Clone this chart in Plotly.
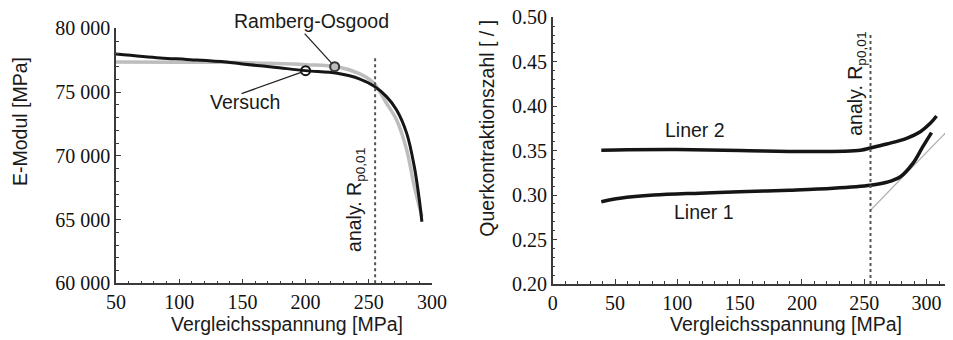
import plotly.graph_objects as go

# ---------------- data ----------------
# left panel: E-Modul vs Vergleichsspannung
versuch_x = [50, 85, 106, 137, 150, 175, 200, 225, 243, 254, 264, 272, 280, 286, 290, 292]
versuch_e = [77990, 77680, 77560, 77360, 77200, 76950, 76680, 76470, 76020, 75470, 74640, 73590, 71760, 69150, 66530, 64830]

ro_x = [50, 100, 137, 170, 200, 225, 243, 254, 264, 272, 280, 286, 292]
ro_e = [77360, 77340, 77330, 77250, 77150, 76990, 76420, 75690, 74120, 72810, 70460, 67580, 65230]

versuch_marker_x = [200]
versuch_marker_e = [76680]
ro_marker_x = [223]
ro_marker_e = [76990]

# right panel: Querkontraktionszahl
liner2_x = [39, 60, 100, 150, 206, 247, 255, 268, 284, 295, 303, 308]
liner2_y = [0.3505, 0.351, 0.3512, 0.3502, 0.3490, 0.3505, 0.353, 0.3575, 0.3639, 0.3713, 0.3807, 0.389]

liner1_x = [39, 54, 81, 118, 150, 190, 225, 255, 268, 279, 289, 297, 304]
liner1_y = [0.2926, 0.2964, 0.300, 0.3022, 0.3038, 0.3055, 0.3076, 0.311, 0.3144, 0.3207, 0.3357, 0.3545, 0.3703]

tangent_x = [255, 320]
tangent_y = [0.283, 0.377]

rp_value = 255
rp_left_e = [60000, 77650]
rp_right_y = [0.20, 0.482]

left_xticks = [50, 100, 150, 200, 250, 300]
left_yticks = [60000, 65000, 70000, 75000, 80000]
left_ytext = ["60 000", "65 000", "70 000", "75 000", "80 000"]
right_xticks = [0, 50, 100, 150, 200, 250, 300]
right_yticks = [0.20, 0.25, 0.30, 0.35, 0.40, 0.45, 0.50]
right_ytext = ["0.20", "0.25", "0.30", "0.35", "0.40", "0.45", "0.50"]

# ---------------- figure ----------------
BLACK = "#151515"
GREY = "#bdbdbd"
AXIS = "#3a3a3a"
SANS = "Liberation Sans"
SERIF = "Liberation Serif"

# page body has an 8px margin: layout positions are given in window pixels and shifted
OFF = 8
W, H = 953 - OFF, 340 - OFF


def px(xp):
    return (xp - OFF) / W


def py(yp):
    return 1 - (yp - OFF) / H


fig = go.Figure()

# left panel
fig.add_trace(go.Scatter(x=ro_x, y=ro_e, mode="lines", line=dict(color=GREY, width=3.5, shape="spline"),
                         xaxis="x", yaxis="y", showlegend=False))
fig.add_trace(go.Scatter(x=versuch_x, y=versuch_e, mode="lines", line=dict(color=BLACK, width=3, shape="spline"),
                         xaxis="x", yaxis="y", showlegend=False))
fig.add_trace(go.Scatter(x=[rp_value, rp_value], y=rp_left_e, mode="lines",
                         line=dict(color="#555555", width=2, dash="dot"), xaxis="x", yaxis="y", showlegend=False))
fig.add_trace(go.Scatter(x=versuch_marker_x, y=versuch_marker_e, mode="markers",
                         marker=dict(symbol="circle-open", size=9, color=BLACK, line=dict(width=2)),
                         xaxis="x", yaxis="y", showlegend=False))
fig.add_trace(go.Scatter(x=ro_marker_x, y=ro_marker_e, mode="markers",
                         marker=dict(symbol="circle", size=9, color=GREY, line=dict(width=2, color="#333333")),
                         xaxis="x", yaxis="y", showlegend=False))

# right panel
fig.add_trace(go.Scatter(x=tangent_x, y=tangent_y, mode="lines", line=dict(color="#b0b0b0", width=1.2),
                         xaxis="x2", yaxis="y2", showlegend=False))
fig.add_trace(go.Scatter(x=liner2_x, y=liner2_y, mode="lines", line=dict(color=BLACK, width=3.5, shape="spline"),
                         xaxis="x2", yaxis="y2", showlegend=False))
fig.add_trace(go.Scatter(x=liner1_x, y=liner1_y, mode="lines", line=dict(color=BLACK, width=3.5, shape="spline"),
                         xaxis="x2", yaxis="y2", showlegend=False))
fig.add_trace(go.Scatter(x=[rp_value, rp_value], y=rp_right_y, mode="lines",
                         line=dict(color="#555555", width=2, dash="dot"), xaxis="x2", yaxis="y2", showlegend=False))

axis_common = dict(showline=True, linecolor=AXIS, linewidth=1.5, ticks="inside", ticklen=5, tickwidth=1.2,
                   tickcolor=AXIS, showgrid=False, zeroline=False, mirror=False, automargin=False,
                   ticklabeloverflow="allow",
                   tickfont=dict(family=SERIF, size=20, color="#111111"))

fig.update_layout(
    template="none",
    width=W, height=H,
    margin=dict(l=0, r=0, t=0, b=0, pad=0),
    plot_bgcolor="white", paper_bgcolor="white",
    xaxis=dict(domain=[px(116), px(432)], range=[50, 300], tickvals=left_xticks, anchor="y",
               minor=dict(ticks="inside", dtick=10, ticklen=3, tickcolor=AXIS), **axis_common),
    yaxis=dict(domain=[py(283.3), py(28.3)], range=[60000, 80000], tickvals=left_yticks,
               ticktext=left_ytext, anchor="x",
               minor=dict(ticks="inside", dtick=1000, ticklen=3, tickcolor=AXIS), **axis_common),
    xaxis2=dict(domain=[px(552.7), min(1, px(951.5))], range=[0, 320], tickvals=right_xticks, anchor="y2",
                minor=dict(ticks="inside", dtick=10, ticklen=3, tickcolor=AXIS), **axis_common),
    yaxis2=dict(domain=[py(284), py(17.3)], range=[0.20, 0.50], tickvals=right_yticks,
                ticktext=right_ytext, anchor="x2",
                minor=dict(ticks="inside", dtick=0.01, ticklen=3, tickcolor=AXIS), **axis_common),
)

txt = dict(family=SANS, size=19.5, color="#1a1a1a")
ann = []
# axis titles
ann.append(dict(text="E-Modul [MPa]", x=px(20), y=py(122), xref="paper", yref="paper", textangle=-90,
                showarrow=False, font=txt, xanchor="center", yanchor="middle"))
ann.append(dict(text="Vergleichsspannung [MPa]", x=px(287), y=py(324), xref="paper", yref="paper",
                showarrow=False, font=txt, xanchor="center", yanchor="middle"))
ann.append(dict(text="Querkontraktionszahl [ / ]", x=px(486.7), y=py(128), xref="paper", yref="paper",
                textangle=-90, showarrow=False, font=txt, xanchor="center", yanchor="middle"))
ann.append(dict(text="Vergleichsspannung [MPa]", x=px(786), y=py(324), xref="paper", yref="paper",
                showarrow=False, font=txt, xanchor="center", yanchor="middle"))
# left labels
ann.append(dict(text="Ramberg-Osgood", x=px(311), y=py(21), xref="paper", yref="paper", showarrow=False,
                font=txt, xanchor="center", yanchor="middle"))
ann.append(dict(text="Versuch", x=152, y=74220, xref="x", yref="y", showarrow=False, font=txt))
ann.append(dict(text="analy. R<sub>p0,01</sub>", x=239, y=66530, xref="x", yref="y", textangle=-90,
                showarrow=False, font=txt))
# right labels
ann.append(dict(text="Liner 2", x=114.2, y=0.3732, xref="x2", yref="y2", showarrow=False, font=txt))
ann.append(dict(text="Liner 1", x=121.4, y=0.281, xref="x2", yref="y2", showarrow=False, font=txt))
ann.append(dict(text="analy. R<sub>p0,01</sub>", x=244, y=0.425, xref="x2", yref="y2", textangle=-90,
                showarrow=False, font=txt))
fig.update_layout(annotations=ann)

# leader lines (pixel offsets anchored at the marker positions)
lead = dict(color="#222222", width=1.3)
fig.add_shape(type="line", xref="x", yref="y", xsizemode="pixel", ysizemode="pixel",
              xanchor=ro_marker_x[0], yanchor=ro_marker_e[0], x0=-30, y0=33, x1=-2.7, y1=3.0, line=lead)
fig.add_shape(type="line", xref="x", yref="y", xsizemode="pixel", ysizemode="pixel",
              xanchor=versuch_marker_x[0], yanchor=versuch_marker_e[0], x0=-64, y0=-23, x1=-3.8, y1=-1.4,
              line=lead)

fig.write_html("out.html")
